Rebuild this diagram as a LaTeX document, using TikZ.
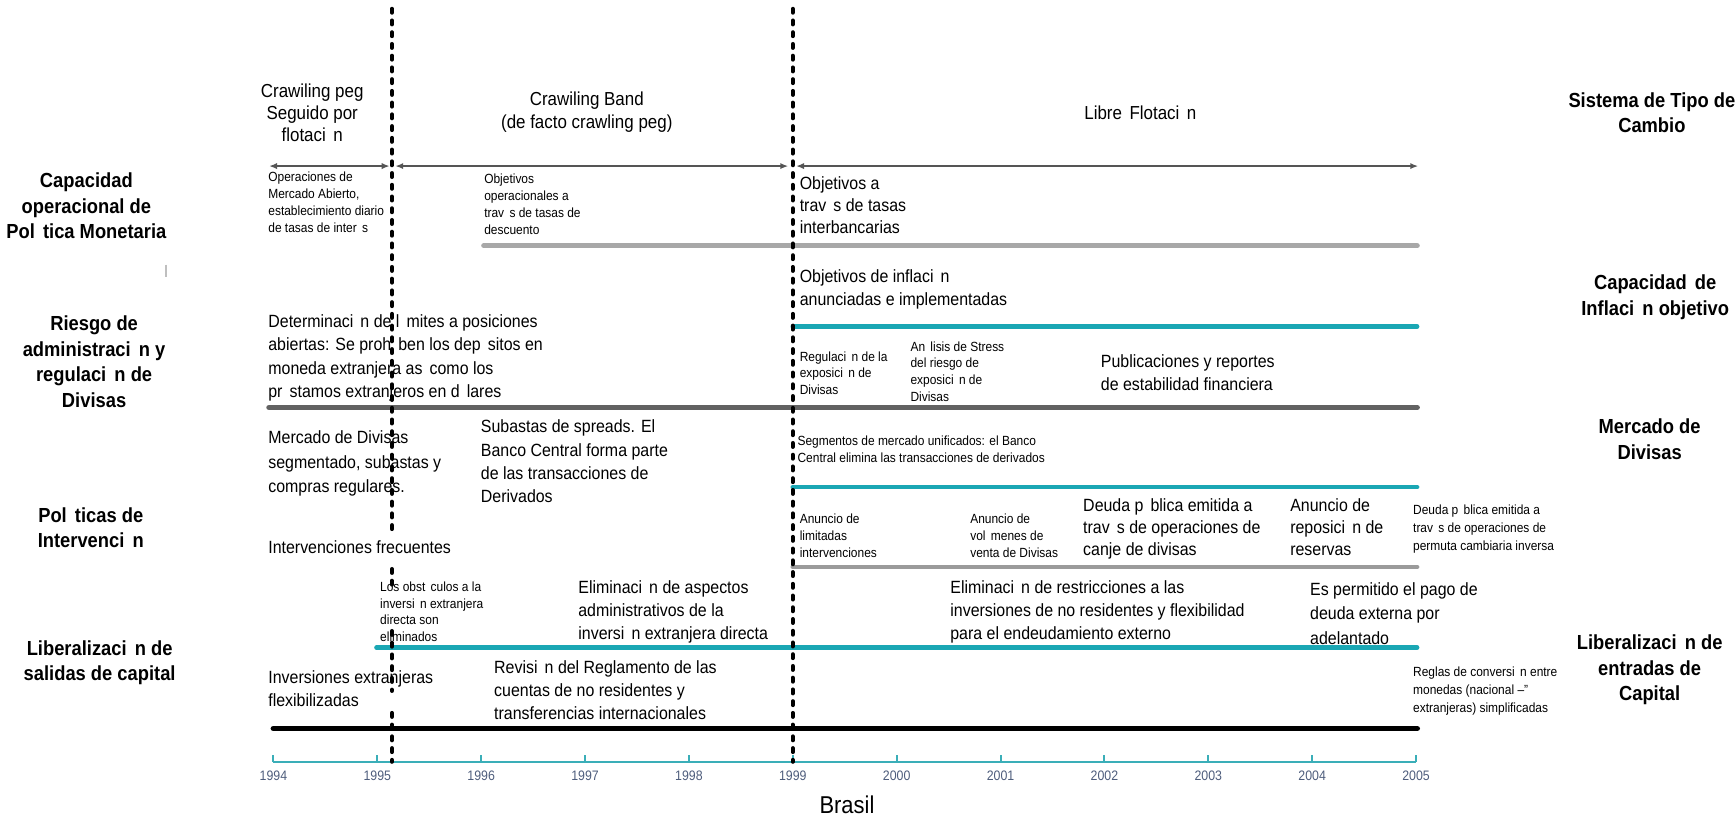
\documentclass[tikz,border=0pt]{standalone}
\usepackage{fontspec}
\setmainfont{Liberation Sans}[FakeStretch=0.9]
\usetikzlibrary{arrows.meta}
\definecolor{tealbar}{HTML}{1AA7B4}
\definecolor{axisteal}{HTML}{3AAEB8}
\definecolor{yearcol}{HTML}{4E5D7C}
\definecolor{arrowgray}{HTML}{555555}
\definecolor{lightbar}{HTML}{A8A8A8}
\definecolor{darkbar}{HTML}{626262}
\definecolor{midbar}{HTML}{9B9B9B}
\newcommand{\gq}{\kern0.4em}
\begin{document}
\begin{tikzpicture}[x=0.5pt,y=-0.5pt,
  med/.style={anchor=north west,inner sep=0pt,align=left,font=\fontsize{8}{10.5}\selectfont},
  sml/.style={anchor=north west,inner sep=0pt,align=left,font=\fontsize{6}{7.6}\selectfont},
  hdr/.style={anchor=north,inner sep=0pt,align=center,font=\fontsize{8.5}{10}\selectfont},
  lab/.style={anchor=north,inner sep=0pt,align=center,font=\bfseries\fontsize{9.2}{11.5}\selectfont},
  dotline/.style={line width=1.9pt,line cap=round,dash pattern=on 1.7pt off 3.6pt,black},
  arr/.style={draw=arrowgray,line width=1.1pt,{Latex[length=3.6pt,width=2.8pt]}-{Latex[length=3.6pt,width=2.8pt]}},
  bar/.style={line cap=round,line width=#1},
  bar/.default=2pt]
\useasboundingbox (0,0) rectangle (1568,738);

% ---- time axis -------------------------------------------------
\foreach \yr [count=\i from 0] in {1994,1995,1996,1997,1998,1999,2000,2001,2002,2003,2004,2005}{
  \pgfmathsetmacro{\xx}{247+93.818*\i}
  \coordinate (t\i) at (\xx,688);
  \draw[axisteal,line width=0.9pt] (t\i) -- ++(0,-6);
  \node[font=\fontsize{6.2}{7}\selectfont,text=yearcol,inner sep=0pt] (yl\i) at (\xx,701) {\yr};
}
\draw[axisteal,line width=1pt] (t0) -- (t11);
\node[font=\fontsize{11}{12}\selectfont,inner sep=0pt] (country) at (765,727) {Brasil};

% ---- horizontal bars ------------------------------------------
\coordinate (a0) at (243,150); \coordinate (a1) at (352,150);
\coordinate (a2) at (357,150); \coordinate (a3) at (712,150);
\coordinate (a4) at (719,150); \coordinate (a5) at (1281,150);
\draw[arr] (a0) -- (a1);
\draw[arr] (a2) -- (a3);
\draw[arr] (a4) -- (a5);

\coordinate (mp0) at (437,222); \coordinate (mp1) at (1280,222);
\draw[lightbar,bar=2.4pt] (mp0) -- (mp1);
\coordinate (in0) at (716,295); \coordinate (in1) at (1280,295);
\draw[tealbar,bar=2pt] (in0) -- (in1);
\coordinate (rk0) at (243,368); \coordinate (rk1) at (1280,368);
\draw[darkbar,bar=2.5pt] (rk0) -- (rk1);
\coordinate (fx0) at (716,440); \coordinate (fx1) at (1280,440);
\draw[tealbar,bar=2pt] (fx0) -- (fx1);
\coordinate (iv0) at (716,512); \coordinate (iv1) at (1280,512);
\draw[midbar,bar=2pt] (iv0) -- (iv1);
\coordinate (cf0) at (340,585); \coordinate (cf1) at (1280,585);
\draw[tealbar,bar=2pt] (cf0) -- (cf1);
\coordinate (co0) at (247,658); \coordinate (co1) at (1280,658);
\draw[black,bar=2.6pt] (co0) -- (co1);

% ---- regime change markers -------------------------------------
\coordinate (p1a) at (354,8);   \coordinate (p1b) at (354,478);
\coordinate (p1c) at (354,514); \coordinate (p1d) at (354,531);
\coordinate (p1e) at (354,570); \coordinate (p1f) at (354,624);
\coordinate (p1g) at (354,644); \coordinate (p1h) at (354,688);
\draw[dotline] (p1a) -- (p1b);
\draw[dotline] (p1c) -- (p1d);
\draw[dotline] (p1e) -- (p1f);
\draw[dotline] (p1g) -- (p1h);
\coordinate (p2a) at (716,8); \coordinate (p2b) at (716,688);
\draw[dotline] (p2a) -- (p2b);

\coordinate (mk0) at (150,239); \coordinate (mk1) at (150,250);
\draw[black!25,line width=0.9pt] (mk0) -- (mk1);

% ---- exchange rate regimes -------------------------------------
\node[hdr] (h1) at (282,75) {Crawiling peg\\Seguido por\\flotaci\gq n};
\node[hdr] (h2) at (530,83) {Crawiling Band\\(de facto crawling peg)};
\node[hdr] (h3) at (1030,95) {Libre\gq Flotaci\gq n};

% ---- row labels ------------------------------------------------
\node[lab] (L1) at (78,156) {Capacidad\\operacional de\\Pol\gq tica Monetaria};
\node[lab] (L2) at (85,285) {Riesgo de\\administraci\gq n y\\regulaci\gq n de\\Divisas};
\node[lab] (L3) at (82,458) {Pol\gq ticas de\\Intervenci\gq n};
\node[lab] (L4) at (90,578) {Liberalizaci\gq n de\\salidas de capital};
\node[lab] (R0) at (1492,83) {Sistema de Tipo de\\Cambio};
\node[lab] (R1) at (1495,248) {Capacidad\gq de\\Inflaci\gq n objetivo};
\node[lab] (R2) at (1490,378) {Mercado de\\Divisas};
\node[lab] (R3) at (1490,573) {Liberalizaci\gq n de\\entradas de\\Capital};

% ---- monetary policy -------------------------------------------
\node[sml] (m1) at (242,155) {Operaciones de\\Mercado Abierto,\\establecimiento diario\\de tasas de inter\gq s};
\node[sml] (m2) at (437,157) {Objetivos\\operacionales a\\trav\gq s de tasas de\\descuento};
\node[med,font=\fontsize{8}{10}\selectfont] (m3) at (722,159) {Objetivos a\\trav\gq s de tasas\\interbancarias};

% ---- inflation targeting ---------------------------------------
\node[med] (i1) at (722,243) {Objetivos de inflaci\gq n\\anunciadas e implementadas};

% ---- risk management -------------------------------------------
\node[med] (r1) at (242,284) {Determinaci\gq n de l\gq mites a posiciones\\abiertas: Se proh\gq ben los dep\gq sitos en\\moneda extranjera as\gq como los\\pr\gq stamos extranjeros en d\gq lares};
\node[sml] (r2) at (722,317) {Regulaci\gq n de la\\exposici\gq n de\\Divisas};
\node[sml] (r3) at (822,308) {An\gq lisis de Stress\\del riesgo de\\exposici\gq n de\\Divisas};
\node[med] (r4) at (994,320) {Publicaciones y reportes\\de estabilidad financiera};

% ---- FX market -------------------------------------------------
\node[med,font=\fontsize{8}{11}\selectfont] (f1) at (242,389) {Mercado de Divisas\\segmentado, subastas y\\compras regulares.};
\node[med] (f2) at (434,379) {Subastas de spreads. El\\Banco Central forma parte\\de las transacciones de\\Derivados};
\node[sml] (f3) at (720,393) {Segmentos de mercado unificados: el Banco\\Central elimina las transacciones de derivados};

% ---- intervention ----------------------------------------------
\node[med] (v1) at (242,488) {Intervenciones frecuentes};
\node[sml] (v2) at (722,464) {Anuncio de\\limitadas\\intervenciones};
\node[sml] (v3) at (876,464) {Anuncio de\\vol\gq menes de\\venta de Divisas};
\node[med,font=\fontsize{8}{10}\selectfont] (v4) at (978,450) {Deuda p\gq blica emitida a\\trav\gq s de operaciones de\\canje de divisas};
\node[med,font=\fontsize{8}{10}\selectfont] (v5) at (1165,450) {Anuncio de\\reposici\gq n de\\reservas};
\node[sml,font=\fontsize{6}{8}\selectfont] (v6) at (1276,456) {Deuda p\gq blica emitida a\\trav\gq s de operaciones de\\permuta cambiaria inversa};

% ---- capital flows ---------------------------------------------
\node[sml] (c1) at (343,525) {Los obst\gq culos a la\\inversi\gq n extranjera\\directa son\\eliminados};
\node[med] (c2) at (522,524) {Eliminaci\gq n de aspectos\\administrativos de la\\inversi\gq n extranjera directa};
\node[med] (c3) at (858,524) {Eliminaci\gq n de restricciones a las\\inversiones de no residentes y flexibilidad\\para el endeudamiento externo};
\node[med,font=\fontsize{8}{11}\selectfont] (c4) at (1183,526) {Es permitido el pago de\\deuda externa por\\adelantado};
\node[med] (c5) at (242,605) {Inversiones extranjeras\\flexibilizadas};
\node[med] (c6) at (446,596) {Revisi\gq n del Reglamento de las\\cuentas de no residentes y\\transferencias internacionales};
\node[sml,font=\fontsize{6}{8.2}\selectfont] (c7) at (1276,602) {Reglas de conversi\gq n entre\\monedas (nacional –"\\extranjeras) simplificadas};
\end{tikzpicture}
\end{document}
